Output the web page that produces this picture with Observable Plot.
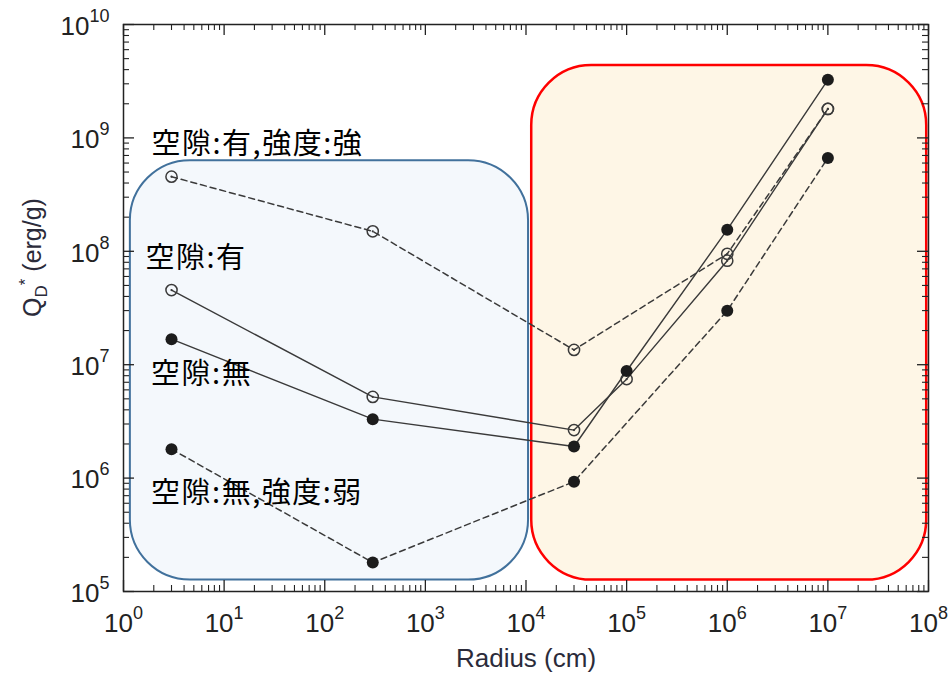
<!DOCTYPE html>
<html>
<head>
<meta charset="utf-8">
<script src="https://cdn.jsdelivr.net/npm/d3@7"></script>
<script src="https://cdn.jsdelivr.net/npm/@observablehq/plot@0.6"></script>
<style>
  html, body { margin: 0; padding: 0; background: #ffffff; }
  #chart svg { display: block; }
</style>
</head>
<body>
<div id="chart"></div>
<script>
// ---- Data ----
const seriesNames = ["空隙:有,強度:強", "空隙:有", "空隙:無", "空隙:無,強度:弱"];

// 空隙:有,強度:強 (dashed, open circles)
const radiusA = [3, 300, 3e4, 1e6, 1e7];
const qA      = [4.55e8, 1.50e8, 1.35e7, 9.5e7, 1.8e9];
// 空隙:有 (solid, open circles)
const radiusB = [3, 300, 3e4, 1e5, 1e6, 1e7];
const qB      = [4.55e7, 5.2e6, 2.65e6, 7.46e6, 8.26e7, 1.8e9];
// 空隙:無 (solid, filled circles)
const radiusC = [3, 300, 3e4, 1e5, 1e6, 1e7];
const qC      = [1.68e7, 3.31e6, 1.90e6, 8.8e6, 1.55e8, 3.25e9];
// 空隙:無,強度:弱 (dashed, filled circles)
const radiusD = [3, 300, 3e4, 1e6, 1e7];
const qD      = [1.80e6, 1.80e5, 9.3e5, 2.99e7, 6.66e8];

const xMajorTicks = [1, 1e1, 1e2, 1e3, 1e4, 1e5, 1e6, 1e7, 1e8];
const yMajorTicks = [1e5, 1e6, 1e7, 1e8, 1e9, 1e10];

// annotation regions (data units) and label anchors
const regionNames = ["small", "large"];
const regionX1 = [1.17, 1.14e4];
const regionX2 = [1.06e4, 9.6e7];
const regionYTop = [6.3e8, 4.35e9];
const regionYBottom = [1.26e5, 1.26e5];
const labelRadius = [1.9, 1.65, 1.88, 1.88];
const labelQ = [8.7e8, 8.6e7, 8.15e6, 7.3e5];

// ---- Build tables ----
const seriesDefs = [
  {name: seriesNames[0], xs: radiusA, ys: qA, dashed: true,  filled: false},
  {name: seriesNames[1], xs: radiusB, ys: qB, dashed: false, filled: false},
  {name: seriesNames[2], xs: radiusC, ys: qC, dashed: false, filled: true},
  {name: seriesNames[3], xs: radiusD, ys: qD, dashed: true,  filled: true}
];
const rows = seriesDefs.flatMap(s => s.xs.map((x, i) => ({series: s.name, x, y: s.ys[i], dashed: s.dashed, filled: s.filled})));

const minorX = d3.range(0, 8).flatMap(e => d3.range(2, 10).map(m => m * Math.pow(10, e)));
const minorY = d3.range(5, 10).flatMap(e => d3.range(2, 10).map(m => m * Math.pow(10, e)));

const regions = regionNames.map((n, i) => ({name: n, x1: regionX1[i], x2: regionX2[i], y1: regionYBottom[i], y2: regionYTop[i]}));
const labels = seriesNames.map((n, i) => ({text: n, x: labelRadius[i], y: labelQ[i]}));

const W = 951, H = 677;
const mL = 123, mR = 23, mT = 24, mB = 86;
const plotW = W - mL - mR, plotH = H - mT - mB;
const majorLen = 11, minorLen = 6;
const ink = "#222";
const lineInk = "#3a3a3a";

const fmt = d => "10^" + Math.round(Math.log10(d));

const chart = Plot.plot({
  width: W,
  height: H,
  marginLeft: mL,
  marginRight: mR,
  marginTop: mT,
  marginBottom: mB,
  style: {fontFamily: "'Liberation Sans', Arial, sans-serif", fontSize: "26px", color: ink, background: "#ffffff"},
  x: {type: "log", domain: [1, 1e8]},
  y: {type: "log", domain: [1e5, 1e10]},
  marks: [
    // highlighted regions
    Plot.rect(regions.filter(d => d.name === "small"), {x1: "x1", x2: "x2", y1: "y1", y2: "y2", rx: 60, fill: "#f4f8fc", stroke: "#41719c", strokeWidth: 2}),
    Plot.rect(regions.filter(d => d.name === "large"), {x1: "x1", x2: "x2", y1: "y1", y2: "y2", rx: 60, fill: "#fef6e6", stroke: "#ff0000", strokeWidth: 2.5}),
    // lines
    Plot.line(rows.filter(d => !d.dashed), {x: "x", y: "y", z: "series", stroke: lineInk, strokeWidth: 1.4}),
    Plot.line(rows.filter(d => d.dashed), {x: "x", y: "y", z: "series", stroke: lineInk, strokeWidth: 1.5, strokeDasharray: "6,4"}),
    // markers
    Plot.dot(rows.filter(d => !d.filled), {x: "x", y: "y", r: 5.6, stroke: lineInk, strokeWidth: 1.5, fill: "none"}),
    Plot.dot(rows.filter(d => !d.filled), {x: "x", y: "y", r: 1.1, fill: lineInk, stroke: "none"}),
    Plot.dot(rows.filter(d => d.filled), {x: "x", y: "y", r: 6, fill: "#1c1c1c", stroke: "none"}),
    // frame and inward ticks on all sides
    Plot.frame({stroke: ink, strokeWidth: 1.5}),
    Plot.tickX(xMajorTicks, {x: d => d, insetTop: plotH - majorLen, stroke: ink, strokeWidth: 1.3}),
    Plot.tickX(minorX, {x: d => d, insetTop: plotH - minorLen, stroke: ink, strokeWidth: 1.1}),
    Plot.tickX(xMajorTicks, {x: d => d, insetBottom: plotH - majorLen, stroke: ink, strokeWidth: 1.3}),
    Plot.tickX(minorX, {x: d => d, insetBottom: plotH - minorLen, stroke: ink, strokeWidth: 1.1}),
    Plot.tickY(yMajorTicks, {y: d => d, insetRight: plotW - majorLen, stroke: ink, strokeWidth: 1.3}),
    Plot.tickY(minorY, {y: d => d, insetRight: plotW - minorLen, stroke: ink, strokeWidth: 1.1}),
    Plot.tickY(yMajorTicks, {y: d => d, insetLeft: plotW - majorLen, stroke: ink, strokeWidth: 1.3}),
    Plot.tickY(minorY, {y: d => d, insetLeft: plotW - minorLen, stroke: ink, strokeWidth: 1.1}),
    // axes (labels only)
    Plot.axisX({anchor: "bottom", ticks: xMajorTicks, tickFormat: fmt, tickSize: 0, tickPadding: 22, fontSize: 26, label: null}),
    Plot.axisY({anchor: "left", ticks: yMajorTicks, tickFormat: fmt, tickSize: 0, tickPadding: 14, fontSize: 26, label: null, dy: 2}),
    // axis titles
    Plot.text(["Radius (cm)"], {text: d => d, frameAnchor: "bottom", dy: 75, fontSize: 26, fill: "#2b2b3a"}),
    Plot.text(["QD* (erg/g)"], {text: d => d, frameAnchor: "left", dx: -91, dy: 9, rotate: -90, fontSize: 25, fill: "#2b2b3a"}),
    // series annotations
    Plot.text(labels, {x: "x", y: "y", text: "text", textAnchor: "start", fontSize: 29, fontFamily: "'Noto Sans CJK JP', sans-serif", fill: "#000"})
  ]
});

// superscripts / subscripts as real text
const NS = "http://www.w3.org/2000/svg";
for (const t of chart.querySelectorAll("text")) {
  const txt = t.textContent;
  const m = /^10\^(-?\d+)$/.exec(txt);
  if (m) {
    t.textContent = "10";
    const s = document.createElementNS(NS, "tspan");
    s.setAttribute("dy", "-13");
    s.setAttribute("font-size", "18");
    s.textContent = m[1];
    t.appendChild(s);
  } else if (txt === "QD* (erg/g)") {
    t.textContent = "Q";
    const sub = document.createElementNS(NS, "tspan");
    sub.setAttribute("dy", "6");
    sub.setAttribute("font-size", "17");
    sub.textContent = "D";
    const sup = document.createElementNS(NS, "tspan");
    sup.setAttribute("dy", "-16");
    sup.setAttribute("font-size", "17");
    sup.textContent = "*";
    const rest = document.createElementNS(NS, "tspan");
    rest.setAttribute("dy", "10");
    rest.textContent = " (erg/g)";
    t.appendChild(sub); t.appendChild(sup); t.appendChild(rest);
  } else if (seriesNames.includes(txt)) {
    t.setAttribute("letter-spacing", "1.5");
  }
}

document.getElementById("chart").appendChild(chart);
</script>
</body>
</html>
